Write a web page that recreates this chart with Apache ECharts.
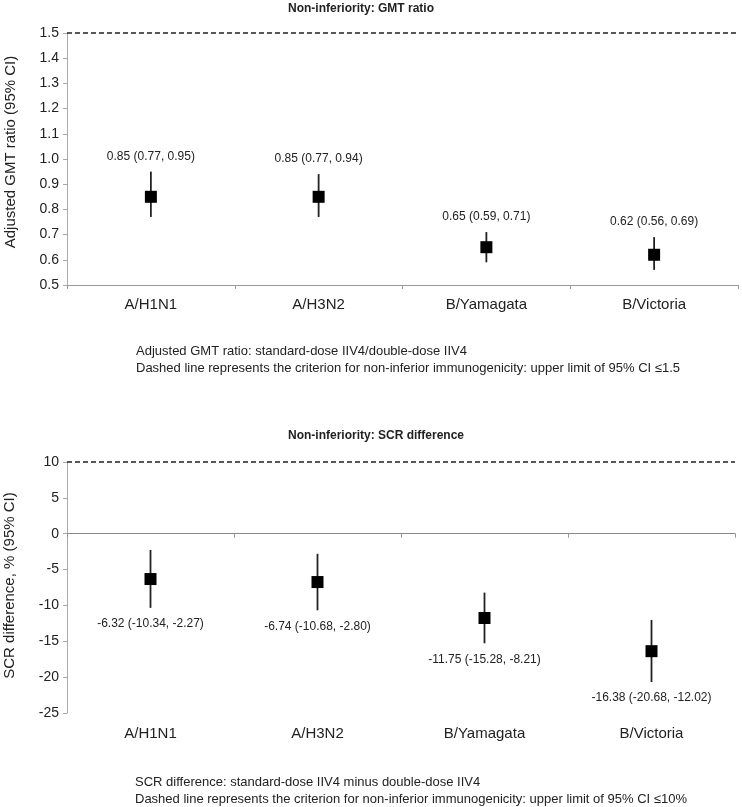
<!DOCTYPE html>
<html>
<head>
<meta charset="utf-8">
<script src="https://cdn.jsdelivr.net/npm/echarts@6/dist/echarts.min.js"></script>
<style>html,body{margin:0;padding:0;background:#fff;}#c{width:742px;height:807px;}</style>
</head>
<body>
<div id="c"></div>
<script>
const categories = ['A/H1N1', 'A/H3N2', 'B/Yamagata', 'B/Victoria'];
const gmtMean = [0.85, 0.85, 0.65, 0.62];
const gmtLow  = [0.77, 0.77, 0.59, 0.56];
const gmtHigh = [0.95, 0.94, 0.71, 0.69];
const scrMean = [-6.32, -6.74, -11.75, -16.38];
const scrLow  = [-10.34, -10.68, -15.28, -20.68];
const scrHigh = [-2.27, -2.80, -8.21, -12.02];
const gmtCriterion = 1.5;
const scrCriterion = 10;

const FONT = 'Liberation Sans, Arial, sans-serif';
const TXT = '#222';

function buildData(mean, low, high) {
  return mean.map((m, i) => [i, m, low[i], high[i]]);
}

function makeRender(labelAbove) {
  return function (params, api) {
    const i = api.value(0);
    const m = api.value(1), lo = api.value(2), hi = api.value(3);
    const pm = api.coord([i, m]);
    const pl = api.coord([i, lo]);
    const ph = api.coord([i, hi]);
    const s = 12;
    const labelY = labelAbove ? ph[1] - 15 : pl[1] + 16;
    const txt = m.toFixed(2) + ' (' + lo.toFixed(2) + ', ' + hi.toFixed(2) + ')';
    return {
      type: 'group',
      children: [
        { type: 'line', shape: { x1: pl[0], y1: pl[1], x2: ph[0], y2: ph[1] },
          style: { stroke: '#222', lineWidth: 1.8 } },
        { type: 'rect', shape: { x: pm[0] - s / 2, y: pm[1] - s / 2, width: s, height: s },
          style: { fill: '#000' } },
        { type: 'text', x: pm[0], y: labelY,
          style: { text: txt, fill: TXT, font: '12px ' + FONT,
                   textAlign: 'center', textVerticalAlign: 'middle' } }
      ]
    };
  };
}

const axisLabelStyle = { color: TXT, fontSize: 14, fontFamily: FONT };
const markLineDef = (v) => ({
  silent: true, symbol: 'none', label: { show: false },
  lineStyle: { color: '#222', type: [5, 3], width: 1.5 },
  data: [{ yAxis: v }]
});

const chart = echarts.init(document.getElementById('c'), null, { renderer: 'canvas' });
chart.setOption({
  animation: false,
  backgroundColor: '#fff',
  grid: [
    { left: 67, right: 4, top: 33, height: 252, containLabel: false, outerBoundsMode: 'none' },
    { left: 67, right: 7, top: 462, height: 251, containLabel: false, outerBoundsMode: 'none' }
  ],
  xAxis: [
    { type: 'category', gridIndex: 0, data: categories, boundaryGap: true,
      axisLine: { lineStyle: { color: '#999' } },
      axisTick: { show: true, length: 4, lineStyle: { color: '#999' } },
      axisLabel: { color: TXT, fontSize: 15, fontFamily: FONT, margin: 12 } },
    { type: 'category', gridIndex: 1, data: categories, boundaryGap: true,
      axisLine: { onZero: true, lineStyle: { color: '#888' } },
      axisTick: { show: true, length: 4, lineStyle: { color: '#999' } },
      axisLabel: { show: false } },
    { type: 'category', gridIndex: 1, data: categories, boundaryGap: true, position: 'bottom',
      axisLine: { show: false, onZero: false }, axisTick: { show: false },
      axisLabel: { color: TXT, fontSize: 15, fontFamily: FONT, margin: 13 } }
  ],
  yAxis: [
    { type: 'value', gridIndex: 0, min: 0.5, max: 1.5, interval: 0.1,
      name: 'Adjusted GMT ratio (95% CI)', nameLocation: 'middle', nameGap: 49,
      nameTextStyle: { color: TXT, fontSize: 15, fontFamily: FONT, padding: [0, 0, 0, 14] },
      axisLine: { show: true, lineStyle: { color: '#aaa' } },
      axisTick: { show: true, length: 4, lineStyle: { color: '#aaa' } },
      splitLine: { show: false },
      axisLabel: Object.assign({ margin: 8, formatter: v => v.toFixed(1) }, axisLabelStyle) },
    { type: 'value', gridIndex: 1, min: -25, max: 10, interval: 5,
      name: 'SCR difference, % (95% CI)', nameLocation: 'middle', nameGap: 50,
      nameTextStyle: { color: TXT, fontSize: 15, fontFamily: FONT, padding: [0, 0, 0, 4] },
      axisLine: { show: true, lineStyle: { color: '#aaa' } },
      axisTick: { show: true, length: 4, lineStyle: { color: '#aaa' } },
      splitLine: { show: false },
      axisLabel: Object.assign({ margin: 8 }, axisLabelStyle) }
  ],
  series: [
    { type: 'custom', xAxisIndex: 0, yAxisIndex: 0, clip: false,
      renderItem: makeRender(true), data: buildData(gmtMean, gmtLow, gmtHigh),
      markLine: markLineDef(gmtCriterion) },
    { type: 'custom', xAxisIndex: 1, yAxisIndex: 1, clip: false,
      renderItem: makeRender(false), data: buildData(scrMean, scrLow, scrHigh),
      markLine: markLineDef(scrCriterion) }
  ],
  graphic: [
    { type: 'text', x: 361, y: 9, style: { text: 'Non-inferiority: GMT ratio', fill: TXT,
      font: 'bold 12px ' + FONT, textAlign: 'center', textVerticalAlign: 'middle' } },
    { type: 'text', x: 376, y: 436, style: { text: 'Non-inferiority: SCR difference', fill: TXT,
      font: 'bold 12px ' + FONT, textAlign: 'center', textVerticalAlign: 'middle' } },
    { type: 'text', x: 136, y: 351, style: { text: 'Adjusted GMT ratio: standard-dose IIV4/double-dose IIV4', fill: TXT,
      font: '13px ' + FONT, textAlign: 'left', textVerticalAlign: 'middle' } },
    { type: 'text', x: 136, y: 368, style: { text: 'Dashed line represents the criterion for non-inferior immunogenicity: upper limit of 95% CI \u22641.5', fill: TXT,
      font: '13px ' + FONT, textAlign: 'left', textVerticalAlign: 'middle' } },
    { type: 'text', x: 135, y: 782, style: { text: 'SCR difference: standard-dose IIV4 minus double-dose IIV4', fill: TXT,
      font: '13px ' + FONT, textAlign: 'left', textVerticalAlign: 'middle' } },
    { type: 'text', x: 135, y: 799, style: { text: 'Dashed line represents the criterion for non-inferior immunogenicity: upper limit of 95% CI \u226410%', fill: TXT,
      font: '13px ' + FONT, textAlign: 'left', textVerticalAlign: 'middle' } }
  ]
});
</script>
</body>
</html>
